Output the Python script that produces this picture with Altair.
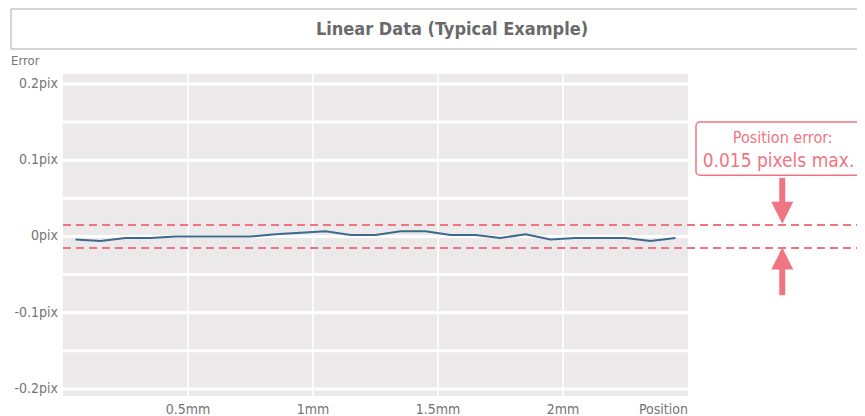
import altair as alt
import pandas as pd

# ---- data ----
positions_mm = [0.05, 0.15, 0.25, 0.35, 0.45, 0.55, 0.65, 0.75, 0.85, 0.95,
                1.05, 1.15, 1.25, 1.35, 1.45, 1.55, 1.65, 1.75, 1.85, 1.95,
                2.05, 2.15, 2.25, 2.35, 2.45]
errors_pix = [-0.004, -0.006, -0.002, -0.002, 0.0, 0.0, 0.0, 0.0, 0.003, 0.005,
              0.007, 0.002, 0.002, 0.007, 0.007, 0.002, 0.002, -0.002, 0.003, -0.004,
              -0.002, -0.002, -0.002, -0.006, -0.002]
x_ticks = [0.5, 1, 1.5, 2, 2.5]
x_tick_labels = ["0.5mm", "1mm", "1.5mm", "2mm", "Position"]
y_ticks = [-0.2, -0.1, 0, 0.1, 0.2]
y_tick_labels = ["-0.2pix", "-0.1pix", "0pix", "0.1pix", "0.2pix"]
grid_y = [-0.2, -0.15, -0.1, -0.05, 0, 0.05, 0.1, 0.15, 0.2]
grid_x = [0.5, 1, 1.5, 2]
tolerance_lines = [0.015, -0.015]
title_text = "Linear Data (Typical Example)"
y_label = "Error"
annotation_lines = ["Position error:", "0.015 pixels max."]

FONT = "Liberation Sans Narrow, DejaVu Sans Condensed, Roboto, sans-serif"
PINK = "#f07582"
GRAY_TXT = "#757575"
PLOT_BG = "#ebe9ea"
LINE = "#3d6a8c"

W, H = 794, 322
X_DOM = [0, W / 250]
Y_DOM = [-0.2092, 0.2131]

df = pd.DataFrame({"pos": positions_mm, "err": errors_pix})
one = pd.DataFrame({"k": [0]})
xlab_df = pd.DataFrame({"v": x_ticks, "lab": x_tick_labels})
ylab_df = pd.DataFrame({"v": y_ticks, "lab": y_tick_labels})

xs = alt.Scale(domain=X_DOM, nice=False, zero=False)
ys = alt.Scale(domain=Y_DOM, nice=False, zero=False)


def XD(v):
    return alt.XDatum(v, axis=None)


def YD(v):
    return alt.YDatum(v, axis=None)


bg = alt.Chart(one).mark_rect(color=PLOT_BG).encode(
    x=alt.XDatum(0, axis=None, scale=xs),
    x2=alt.datum(2.5),
    y=alt.value(0),
    y2=alt.value(H),
)

hgrid = alt.Chart(pd.DataFrame({"g": grid_y})).mark_rule(color="white", strokeWidth=3).encode(
    y=alt.Y("g:Q", scale=ys, axis=None),
    x=XD(0),
    x2=alt.datum(2.5),
)

vgrid = alt.Chart(pd.DataFrame({"g": grid_x})).mark_rule(color="white", strokeWidth=1.5).encode(
    x=alt.X("g:Q", scale=xs, axis=None),
    y=alt.value(0),
    y2=alt.value(H),
)

dashed = alt.Chart(pd.DataFrame({"t": tolerance_lines})).mark_rule(
    color=PINK, strokeWidth=2, strokeDash=[8, 5]).encode(
    y=alt.Y("t:Q", scale=ys, axis=None),
    x=XD(0),
    x2=alt.datum(3.3),
)

line = alt.Chart(df).mark_line(color=LINE, strokeWidth=2).encode(
    x=alt.X("pos:Q", scale=xs, axis=None),
    y=alt.Y("err:Q", scale=ys, axis=None),
)

# tick labels (drawn through the scales)
xlabels_c = alt.Chart(xlab_df).transform_filter("datum.lab != 'Position'").mark_text(
    font=FONT, fontSize=14, color=GRAY_TXT, align="center", baseline="top").encode(
    x=alt.X("v:Q", scale=xs, axis=None), y=alt.value(H + 7), text="lab:N")
xlabels_r = alt.Chart(xlab_df).transform_filter("datum.lab == 'Position'").mark_text(
    font=FONT, fontSize=14, color=GRAY_TXT, align="right", baseline="top").encode(
    x=alt.X("v:Q", scale=xs, axis=None), y=alt.value(H + 7), text="lab:N")
ylabels = alt.Chart(ylab_df).mark_text(
    font=FONT, fontSize=14, color=GRAY_TXT, align="right", baseline="middle").encode(
    y=alt.Y("v:Q", scale=ys, axis=None), x=alt.value(-5), text="lab:N")

# annotation box + text
ann_box = alt.Chart(one).mark_rect(fill="white", stroke=PINK, strokeWidth=1.5, cornerRadius=4).encode(
    x=XD(2.532), x2=alt.datum(3.4),
    y=YD(0.150), y2=alt.datum(0.0803),
)
ann_t1 = alt.Chart(one).mark_text(font=FONT, fontSize=16, color=PINK, align="center",
                                  baseline="alphabetic").encode(
    x=XD(2.879), y=YD(0.1226), text=alt.value(annotation_lines[0]))
ann_t2 = alt.Chart(one).mark_text(font=FONT, fontSize=19, color=PINK, align="center",
                                  baseline="alphabetic").encode(
    x=XD(2.862), y=YD(0.0905), text=alt.value(annotation_lines[1]))

# arrows
shaft_down = alt.Chart(one).mark_rule(color=PINK, strokeWidth=6).encode(
    x=XD(2.877), y=YD(0.077), y2=alt.datum(0.042))
shaft_up = alt.Chart(one).mark_rule(color=PINK, strokeWidth=6).encode(
    x=XD(2.877), y=YD(-0.040), y2=alt.datum(-0.077))
head_down = alt.Chart(one).mark_point(shape="M-1,-1L1,-1L0,1Z", filled=True, opacity=1,
                                      color=PINK, size=484).encode(
    x=XD(2.877), y=YD(0.031))
head_up = alt.Chart(one).mark_point(shape="M-1,1L1,1L0,-1Z", filled=True, opacity=1,
                                    color=PINK, size=484).encode(
    x=XD(2.877), y=YD(-0.029))

# title box and labels (outside plot area)
title_box = alt.Chart(one).mark_rect(fill="white", stroke="#aaaaaa", strokeWidth=1).encode(
    x=alt.value(-52), x2=alt.value(860), y=alt.value(-65), y2=alt.value(-25))
title = alt.Chart(one).mark_text(font=FONT, fontSize=18, fontWeight="bold", color="#6a6a6a",
                                 align="center", baseline="middle").encode(
    x=alt.value(389), y=alt.value(-44), text=alt.value(title_text))
ylab = alt.Chart(one).mark_text(font=FONT, fontSize=13, color=GRAY_TXT,
                                align="left", baseline="middle").encode(
    x=alt.value(-52), y=alt.value(-13), text=alt.value(y_label))

chart = alt.layer(
    bg, hgrid, vgrid, dashed, line, xlabels_c, xlabels_r, ylabels,
    ann_box, ann_t1, ann_t2, shaft_down, shaft_up, head_down, head_up,
    title_box, title, ylab,
).properties(
    width=W, height=H,
    autosize=alt.AutoSizeParams(type="none"),
    padding={"left": 55, "top": 66, "right": 0, "bottom": 20},
    background="white",
).configure_view(stroke=None)

chart.save("out.html", embed_options={"renderer": "svg", "actions": False})
